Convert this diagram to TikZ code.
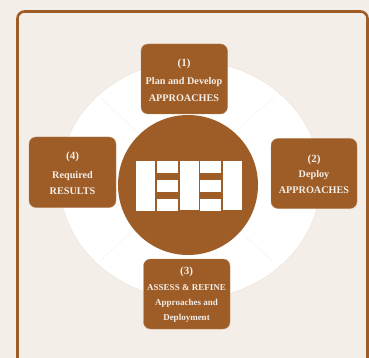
\documentclass[tikz,border=0pt]{standalone}
\usepackage{fontspec}
\setmainfont{Liberation Serif}
\definecolor{bgc}{HTML}{F3EEE8}
\definecolor{brownc}{HTML}{9E5C26}
\definecolor{edgec}{HTML}{B98A63}
\definecolor{spokec}{HTML}{FAF7F4}
\tikzset{
  stepbox/.style={fill=brownc,draw=edgec,line width=.4pt,rounded corners=7pt},
  cell/.style={fill=white,draw=none},
  lbl/.style={text=bgc,inner sep=0pt,font=\bfseries\fontsize{10.2}{12}\selectfont},
  num/.style={text=bgc,inner sep=0pt,font=\bfseries\fontsize{11}{13}\selectfont},
  small/.style={text=bgc,inner sep=0pt,font=\bfseries\fontsize{9}{11}\selectfont},
  spoke/.style={draw=spokec,line width=.8pt}
}
\begin{document}
\begin{tikzpicture}[x=1pt,y=-1pt]
\useasboundingbox (0,0) rectangle (369,358);
\fill[bgc] (0,0) rectangle (369,358);
% frame, running off the bottom
\draw[brownc,line width=2.6pt,rounded corners=7pt] (17.5,370) -- (17.5,11.5) -- (367.5,11.5) -- (367.5,370);
% white disc
\fill[white,draw=edgec!30,line width=.3pt] (190,180) ellipse [x radius=130.5,y radius=119];
% spokes
\draw[spoke] (100,97) -- (138,133);
\draw[spoke] (274,97) -- (237,130);
\draw[spoke] (100,261) -- (132,231);
\draw[spoke] (272,261) -- (242,233);
% hub
\fill[brownc] (188,185) circle [radius=70];
% EEI blocks
\fill[cell] (136,161) rectangle (155,211);
\fill[cell] (157,161) rectangle (178,173);
\fill[cell] (157,180) rectangle (178,192);
\fill[cell] (157,199) rectangle (178,211);
\fill[cell] (180,161) rectangle (199,210);
\fill[cell] (200,161) rectangle (221,173);
\fill[cell] (200,180) rectangle (221,192);
\fill[cell] (200,199) rectangle (221,211);
\fill[cell] (223,161) rectangle (242,210);
% boxes
\draw[stepbox] (141,44) rectangle (227.5,114);
\draw[stepbox] (29,137) rectangle (116,207.5);
\draw[stepbox] (271,138.5) rectangle (357,208.5);
\draw[stepbox] (143.5,259) rectangle (230,329);
% top
\node[num] (t1) at (184,63.5) {(1)};
\node[lbl] (t2) at (184,82) {Plan and Develop};
\node[lbl] (t3) at (184,98) {APPROACHES};
% left
\node[num] (l1) at (72.5,156.5) {(4)};
\node[lbl] (l2) at (72.5,176) {Required};
\node[lbl] (l3) at (72.5,191) {RESULTS};
% right
\node[num] (r1) at (314,159.5) {(2)};
\node[lbl] (r2) at (314,175) {Deploy};
\node[lbl] (r3) at (314,190) {APPROACHES};
% bottom
\node[num] (b1) at (186.5,272) {(3)};
\node[small] (b2) at (186.5,287.5) {ASSESS \& REFINE};
\node[small] (b3) at (186.5,303.5) {Approaches and};
\node[small] (b4) at (186.5,318.5) {Deployment};
\end{tikzpicture}
\end{document}
